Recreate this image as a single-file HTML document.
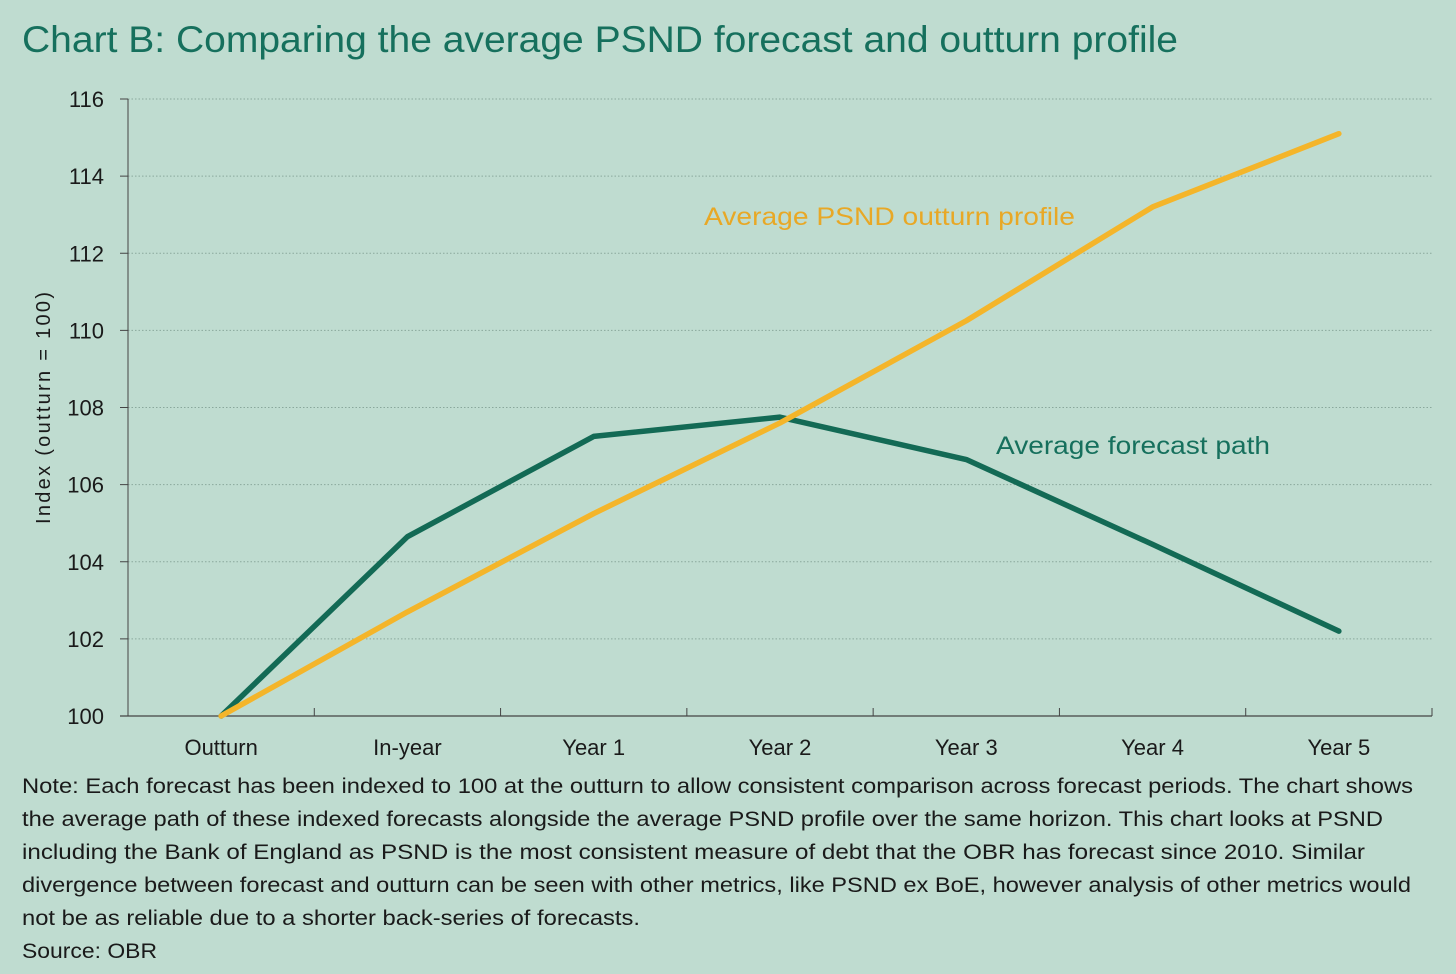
<!DOCTYPE html>
<html><head><meta charset="utf-8"><style>
body{margin:0;background:#bfdcd0;width:1456px;height:974px;overflow:hidden;font-family:"Liberation Sans",sans-serif}
svg{position:absolute;left:0;top:0}
</style></head><body>
<svg width="1456" height="974">
<text x="22" y="52" font-size="37" fill="#16705d" textLength="1156" lengthAdjust="spacingAndGlyphs">Chart B: Comparing the average PSND forecast and outturn profile</text>
<g id="grid"></g><g id="axes"></g><g id="series"></g>
<text x="704" y="225" font-size="25" fill="#e8a826" textLength="371" lengthAdjust="spacingAndGlyphs">Average PSND outturn profile</text>
<text x="996" y="454" font-size="25" fill="#16705d" textLength="274" lengthAdjust="spacingAndGlyphs">Average forecast path</text>
<text transform="translate(50,408) rotate(-90)" text-anchor="middle" font-size="20" fill="#1a1a1a" textLength="232">Index  (outturn = 100)</text>
<g font-size="21" fill="#1a1a1a">
<text x="22" y="793" textLength="1391" lengthAdjust="spacingAndGlyphs">Note: Each forecast has been indexed to 100 at the outturn to allow consistent comparison across forecast periods. The chart shows</text>
<text x="22" y="826" textLength="1361" lengthAdjust="spacingAndGlyphs">the average path of these indexed forecasts alongside the average PSND profile over the same horizon. This chart looks at PSND</text>
<text x="22" y="859" textLength="1343" lengthAdjust="spacingAndGlyphs">including the Bank of England as PSND is the most consistent measure of debt that the OBR has forecast since 2010. Similar</text>
<text x="22" y="892" textLength="1389" lengthAdjust="spacingAndGlyphs">divergence between forecast and outturn can be seen with other metrics, like PSND ex BoE, however analysis of other metrics would</text>
<text x="22" y="925" textLength="618" lengthAdjust="spacingAndGlyphs">not be as reliable due to a shorter back-series of forecasts.</text>
<text x="22" y="958" textLength="135" lengthAdjust="spacingAndGlyphs">Source: OBR</text>
</g>
</svg>
<script>
const categories=["Outturn","In-year","Year 1","Year 2","Year 3","Year 4","Year 5"];
const forecastPath=[100,104.65,107.25,107.75,106.65,104.45,102.2];
const outturnProfile=[100,102.7,105.25,107.6,110.25,113.2,115.1];
const yTicks=[100,102,104,106,108,110,112,114,116];
const NS="http://www.w3.org/2000/svg";
const L=128,R=1432,T=99,B=716,ymin=100,ymax=116;
const bw=(R-L)/categories.length;
const xs=i=>L+bw*(i+0.5);
const ys=v=>B-(v-ymin)/(ymax-ymin)*(B-T);
function mk(tag,attrs,parent){const e=document.createElementNS(NS,tag);for(const k in attrs)e.setAttribute(k,attrs[k]);document.getElementById(parent).appendChild(e);return e;}
yTicks.forEach(v=>{
 if(v>ymin){const g=mk("line",{x1:L,x2:R,y1:ys(v),y2:ys(v),stroke:"#8aa89c","stroke-width":1,"stroke-dasharray":"1.5,2"},"grid");
 
 }
 const t=mk("line",{x1:L-8,x2:L,y1:ys(v),y2:ys(v),stroke:"#444","stroke-width":1},"axes");
 
 
 const tx=mk("text",{x:L-24,y:ys(v)+8,"text-anchor":"end","font-size":22,fill:"#1a1a1a"},"axes");tx.textContent=v;
 
 
});
const ya=mk("line",{x1:L,x2:L,y1:T,y2:B,stroke:"#444","stroke-width":1},"axes");


const xa=mk("line",{x1:L-8,x2:R,y1:B,y2:B,stroke:"#444","stroke-width":1.2},"axes");


categories.forEach((c,i)=>{
 const t=mk("line",{x1:L+bw*(i+1),x2:L+bw*(i+1),y1:B-8,y2:B,stroke:"#444","stroke-width":1},"axes");
 
 
 const tx=mk("text",{x:xs(i),y:755,"text-anchor":"middle","font-size":22,fill:"#1a1a1a"},"axes");tx.textContent=c;
 
 
});
const p1=mk("polyline",{points:forecastPath.map((v,i)=>xs(i)+","+ys(v)).join(" "),fill:"none",stroke:"#136a55","stroke-width":5.5,"stroke-linejoin":"round","stroke-linecap":"round"},"series");


const p2=mk("polyline",{points:outturnProfile.map((v,i)=>xs(i)+","+ys(v)).join(" "),fill:"none",stroke:"#f4b52a","stroke-width":5.5,"stroke-linejoin":"round","stroke-linecap":"round"},"series");


</script>
</body></html>
